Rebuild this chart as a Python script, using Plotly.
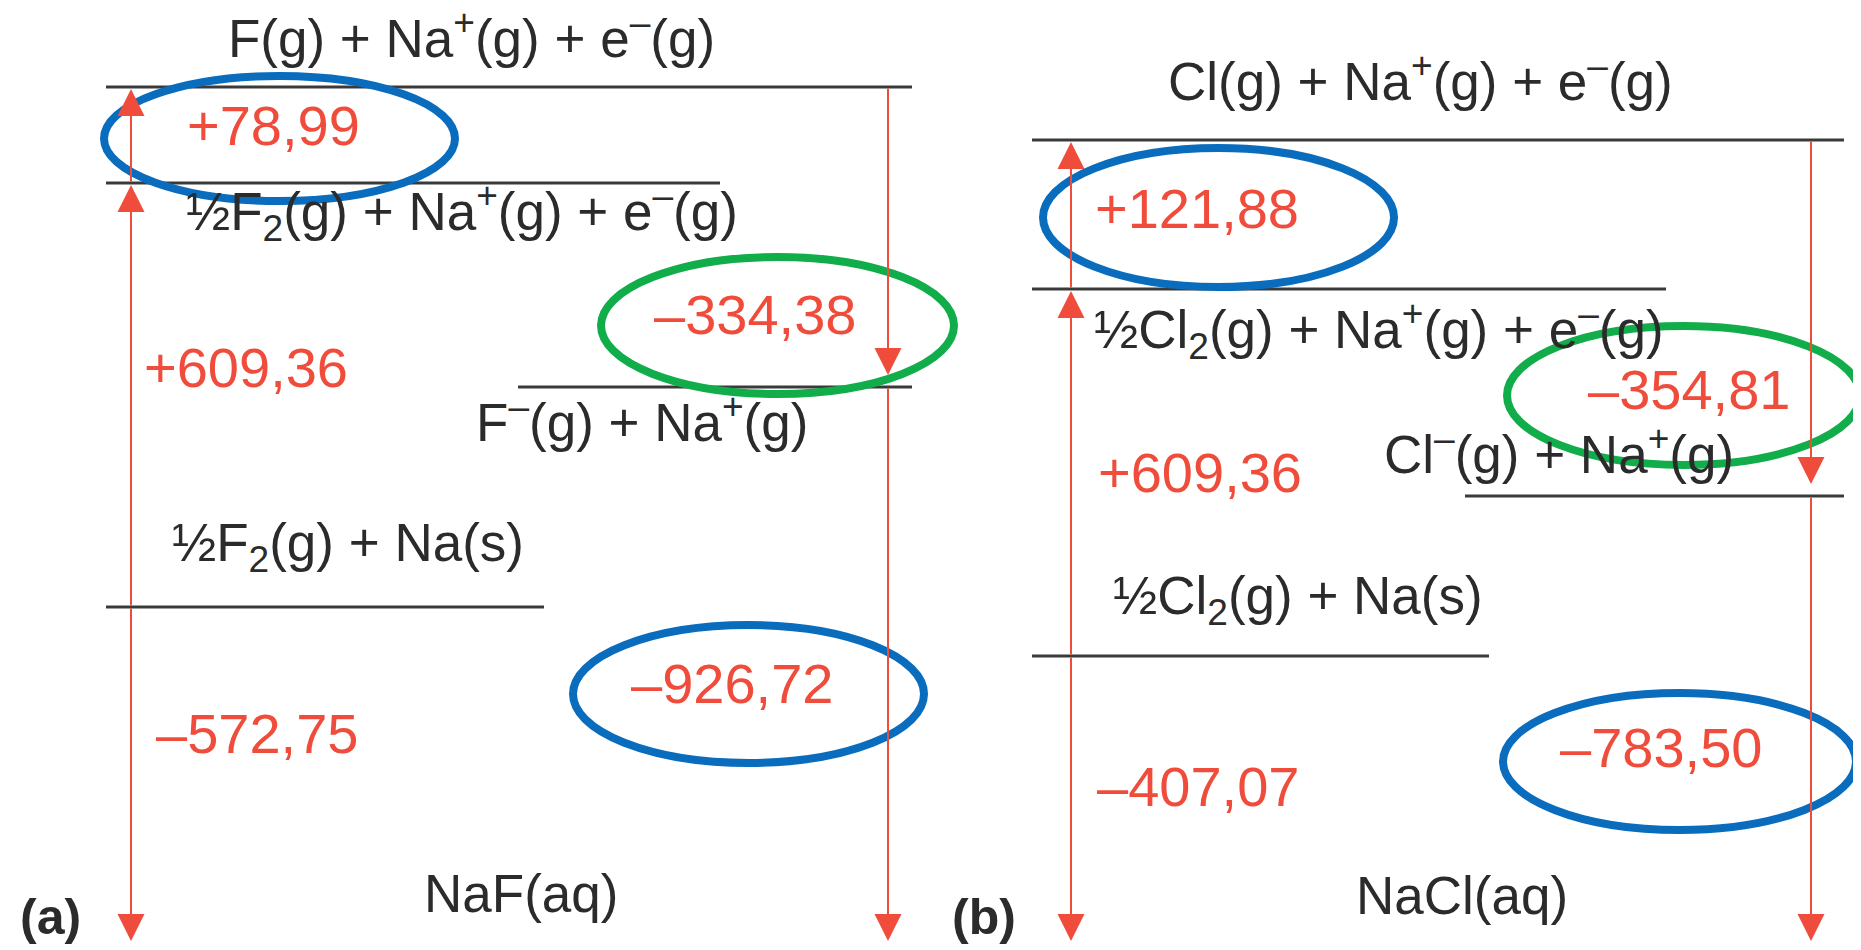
import plotly.graph_objects as go

# ---------------- data ----------------
panel_tags = ["(a)", "(b)"]

# panel (a): NaF
species_a = [
    "F(g) + Na<sup>+</sup>(g) + e<sup>–</sup>(g)",
    "½F<sub>2</sub>(g) + Na<sup>+</sup>(g) + e<sup>–</sup>(g)",
    "F<sup>–</sup>(g) + Na<sup>+</sup>(g)",
    "½F<sub>2</sub>(g) + Na(s)",
    "NaF(aq)",
]
# drawn level heights (diagram units; top = 0)
level_a = [79, 175, 379, 599, 945]
# enthalpy steps: (from level index, to level index, label)
steps_a_from = [1, 3, 3, 0, 2]
steps_a_to = [0, 1, 4, 2, 4]
steps_a_label = ["+78,99", "+609,36", "–572,75", "–334,38", "–926,72"]
circled_a = ["blue", None, None, "green", "blue"]

# panel (b): NaCl
species_b = [
    "Cl(g) + Na<sup>+</sup>(g) + e<sup>–</sup>(g)",
    "½Cl<sub>2</sub>(g) + Na<sup>+</sup>(g) + e<sup>–</sup>(g)",
    "Cl<sup>–</sup>(g) + Na<sup>+</sup>(g)",
    "½Cl<sub>2</sub>(g) + Na(s)",
    "NaCl(aq)",
]
level_b = [132, 281, 488, 648, 945]
steps_b_from = [1, 3, 3, 0, 2]
steps_b_to = [0, 1, 4, 2, 4]
steps_b_label = ["+121,88", "+609,36", "–407,07", "–354,81", "–783,50"]
circled_b = ["blue", None, None, "green", "blue"]

# ---------------- layout / style ----------------
W, H = 1861, 950
FONT = "Liberation Sans, Arial, Helvetica, sans-serif"
BLACK = "#2b2b2b"
LINE = "#3a3a3a"
RED = "#F04C3B"
RING = {"blue": "#0A6CBD", "green": "#12AD4B"}
DY = -11  # text box vs glyph offset

panels = [
    dict(
        species=species_a, level=level_a, frm=steps_a_from, to=steps_a_to,
        lab=steps_a_label, circ=circled_a, tag=panel_tags[0],
        lx0=[98, 98, 510, 98, 98], lx1=[904, 712, 904, 536, 904],
        sx=[463, 454, 634, 340, 513], sy=[37, 214, 421, 549, 896],
        col=[123, 123, 123, 880, 880],
        nx=[265, 238, 249, 747, 724], ny=[128, 370, 736, 317, 686],
        rings=[(96, 68, 447, 193), None, None, (593, 249, 946, 386), (565, 617, 916, 755)],
        tagx=42,
    ),
    dict(
        species=species_b, level=level_b, frm=steps_b_from, to=steps_b_to,
        lab=steps_b_label, circ=circled_b, tag=panel_tags[1],
        lx0=[1024, 1024, 1457, 1024, 1024], lx1=[1836, 1658, 1836, 1481, 1836],
        sx=[1412, 1371, 1551, 1290, 1454], sy=[80, 332, 453, 602, 898],
        col=[1063, 1063, 1063, 1803, 1803],
        nx=[1189, 1192, 1190, 1681, 1653], ny=[211, 475, 789, 392, 750],
        rings=[(1035, 140, 1386, 279), None, None, (1499, 318, 1852, 457), (1495, 685, 1848, 822)],
        tagx=976,
    ),
]

fig = go.Figure()
shapes = []
annotations = []

for p in panels:
    lv = p["level"]
    for i, y in enumerate(lv):
        fig.add_trace(go.Scatter(
            x=[p["lx0"][i], p["lx1"][i]], y=[y, y], mode="lines",
            line=dict(color=LINE, width=3), hoverinfo="skip", showlegend=False,
            cliponaxis=False))
        annotations.append(dict(
            x=p["sx"][i], y=p["sy"][i] + DY, xref="x", yref="y", text=p["species"][i],
            showarrow=False, xanchor="center", yanchor="middle",
            font=dict(family=FONT, size=53, color=BLACK)))
    for k in range(len(p["lab"])):
        y0 = lv[p["frm"][k]]
        y1 = lv[p["to"][k]]
        up = y1 < y0
        tip = y1 + (2 if up else -12)
        annotations.append(dict(
            x=p["col"][k], y=tip, ax=p["col"][k], ay=y0,
            xref="x", yref="y", axref="x", ayref="y", text="",
            showarrow=True, arrowhead=2, arrowsize=2.7, arrowwidth=2,
            arrowcolor=RED, standoff=0, startstandoff=0))
        annotations.append(dict(
            x=p["nx"][k], y=p["ny"][k] + DY, xref="x", yref="y", text=p["lab"][k],
            showarrow=False, xanchor="center", yanchor="middle",
            font=dict(family=FONT, size=56, color=RED)))
        if p["circ"][k]:
            x0, yy0, x1, yy1 = p["rings"][k]
            shapes.append(dict(
                type="circle", xref="x", yref="y", x0=x0, y0=yy0, x1=x1, y1=yy1,
                line=dict(color=RING[p["circ"][k]], width=8), layer="above"))
    annotations.append(dict(
        x=p["tagx"], y=920 + DY, xref="x", yref="y", text="<b>" + p["tag"] + "</b>",
        showarrow=False, xanchor="center", yanchor="middle",
        font=dict(family=FONT, size=50, color=BLACK)))

fig.update_layout(
    width=W, height=H,
    margin=dict(l=0, r=0, t=0, b=0),
    paper_bgcolor="white", plot_bgcolor="white",
    xaxis=dict(range=[0, W], visible=False, fixedrange=True),
    yaxis=dict(range=[H, 0], visible=False, fixedrange=True),
    shapes=shapes, annotations=annotations, showlegend=False,
)

fig.write_html("out.html", config={"displayModeBar": False})
